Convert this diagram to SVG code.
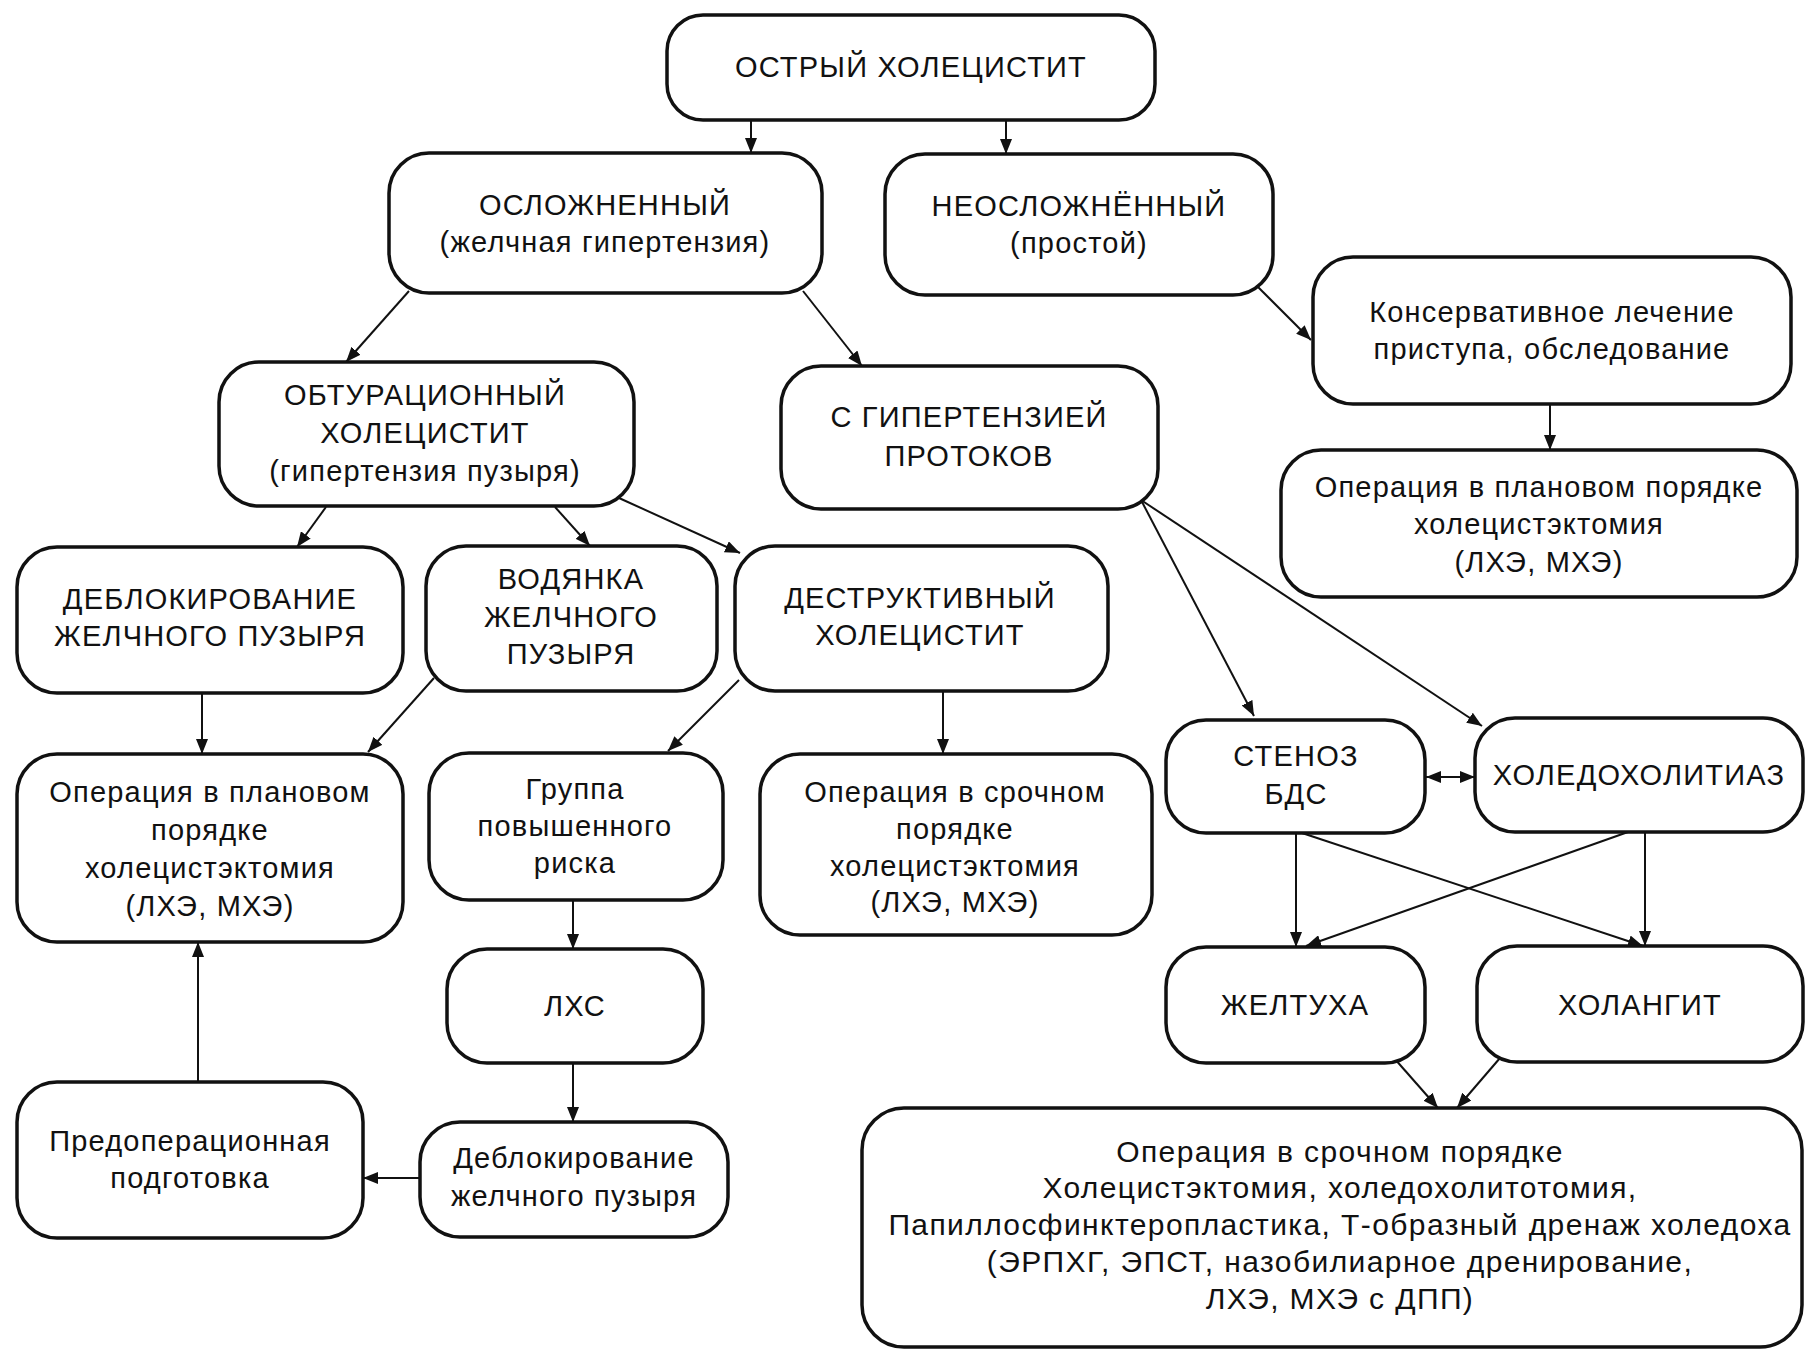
<svg xmlns="http://www.w3.org/2000/svg" width="1807" height="1350" viewBox="0 0 1807 1350">
<defs>
<style>
.box{fill:#fff;stroke:#111;stroke-width:3.5}
.t{font-family:"Liberation Sans",Arial,sans-serif;font-size:29px;letter-spacing:1.2px;fill:#111;text-anchor:middle}
.tb{font-family:"Liberation Sans",Arial,sans-serif;font-size:30px;letter-spacing:1.4px;fill:#111;text-anchor:middle}
.c{fill:none;stroke:#111;stroke-width:2}
</style>
<marker id="ah" markerUnits="userSpaceOnUse" markerWidth="16" markerHeight="12" refX="15" refY="6" orient="auto">
<path d="M0,0 L15,6 L0,12 z" fill="#111"/>
</marker>
<marker id="as" markerUnits="userSpaceOnUse" markerWidth="16" markerHeight="12" refX="0" refY="6" orient="auto">
<path d="M15,0 L0,6 L15,12 z" fill="#111"/>
</marker>
</defs>
<rect width="1807" height="1350" fill="#fff"/>

<g id="connectors">
<line class="c" x1="751" y1="120" x2="751" y2="153" marker-end="url(#ah)"/>
<line class="c" x1="1006" y1="120" x2="1006" y2="154" marker-end="url(#ah)"/>
<line class="c" x1="409" y1="291" x2="346" y2="362" marker-end="url(#ah)"/>
<line class="c" x1="803" y1="291" x2="862" y2="366" marker-end="url(#ah)"/>
<line class="c" x1="1258" y1="287" x2="1311" y2="340" marker-end="url(#ah)"/>
<line class="c" x1="1550" y1="404" x2="1550" y2="450" marker-end="url(#ah)"/>
<line class="c" x1="326" y1="507" x2="297" y2="547" marker-end="url(#ah)"/>
<line class="c" x1="555" y1="507" x2="590" y2="546" marker-end="url(#ah)"/>
<line class="c" x1="619" y1="498" x2="740" y2="553" marker-end="url(#ah)"/>
<line class="c" x1="1141" y1="500" x2="1254" y2="716" marker-end="url(#ah)"/>
<line class="c" x1="1141" y1="500" x2="1482" y2="726" marker-end="url(#ah)"/>
<line class="c" x1="202" y1="693" x2="202" y2="754" marker-end="url(#ah)"/>
<line class="c" x1="434" y1="678" x2="368" y2="752" marker-end="url(#ah)"/>
<line class="c" x1="739" y1="680" x2="668" y2="751" marker-end="url(#ah)"/>
<line class="c" x1="943" y1="691" x2="943" y2="754" marker-end="url(#ah)"/>
<line class="c" x1="1426" y1="777" x2="1475" y2="777" marker-start="url(#as)" marker-end="url(#ah)"/>
<line class="c" x1="1296" y1="833" x2="1296" y2="947" marker-end="url(#ah)"/>
<line class="c" x1="1302" y1="833" x2="1643" y2="946" marker-end="url(#ah)"/>
<line class="c" x1="1628" y1="832" x2="1306" y2="946" marker-end="url(#ah)"/>
<line class="c" x1="1645" y1="832" x2="1645" y2="946" marker-end="url(#ah)"/>
<line class="c" x1="573" y1="900" x2="573" y2="949" marker-end="url(#ah)"/>
<line class="c" x1="573" y1="1063" x2="573" y2="1122" marker-end="url(#ah)"/>
<line class="c" x1="420" y1="1178" x2="363" y2="1178" marker-end="url(#ah)"/>
<line class="c" x1="198" y1="1082" x2="198" y2="942" marker-end="url(#ah)"/>
<line class="c" x1="1394" y1="1058" x2="1438" y2="1108" marker-end="url(#ah)"/>
<line class="c" x1="1500" y1="1058" x2="1457" y2="1108" marker-end="url(#ah)"/>
</g>

<g id="n1"><rect class="box" x="667" y="15" width="488" height="105" rx="36"/>
<text class="t" x="911" y="77">ОСТРЫЙ ХОЛЕЦИСТИТ</text></g>

<g id="n2"><rect class="box" x="389" y="153" width="433" height="140" rx="40"/>
<text class="t" x="605" y="215">ОСЛОЖНЕННЫЙ</text>
<text class="t" x="605" y="252">(желчная гипертензия)</text></g>

<g id="n3"><rect class="box" x="885" y="154" width="388" height="141" rx="40"/>
<text class="t" x="1079" y="216">НЕОСЛОЖНЁННЫЙ</text>
<text class="t" x="1079" y="253">(простой)</text></g>

<g id="n4"><rect class="box" x="1313" y="257" width="478" height="147" rx="40"/>
<text class="t" x="1552" y="322">Консервативное лечение</text>
<text class="t" x="1552" y="359">приступа, обследование</text></g>

<g id="n5"><rect class="box" x="1281" y="450" width="516" height="147" rx="40"/>
<text class="t" x="1539" y="497">Операция в плановом порядке</text>
<text class="t" x="1539" y="534">холецистэктомия</text>
<text class="t" x="1539" y="572">(ЛХЭ, МХЭ)</text></g>

<g id="n6"><rect class="box" x="219" y="362" width="415" height="144" rx="40"/>
<text class="t" x="425" y="405">ОБТУРАЦИОННЫЙ</text>
<text class="t" x="425" y="443">ХОЛЕЦИСТИТ</text>
<text class="t" x="425" y="481">(гипертензия пузыря)</text></g>

<g id="n7"><rect class="box" x="781" y="366" width="377" height="143" rx="40"/>
<text class="t" x="969" y="427">С ГИПЕРТЕНЗИЕЙ</text>
<text class="t" x="969" y="466">ПРОТОКОВ</text></g>

<g id="n8"><rect class="box" x="17" y="547" width="386" height="146" rx="40"/>
<text class="t" x="210" y="609">ДЕБЛОКИРОВАНИЕ</text>
<text class="t" x="210" y="646">ЖЕЛЧНОГО ПУЗЫРЯ</text></g>

<g id="n9"><rect class="box" x="426" y="546" width="291" height="145" rx="40"/>
<text class="t" x="571" y="589">ВОДЯНКА</text>
<text class="t" x="571" y="627">ЖЕЛЧНОГО</text>
<text class="t" x="571" y="664">ПУЗЫРЯ</text></g>

<g id="n10"><rect class="box" x="735" y="546" width="373" height="145" rx="40"/>
<text class="t" x="920" y="608">ДЕСТРУКТИВНЫЙ</text>
<text class="t" x="920" y="645">ХОЛЕЦИСТИТ</text></g>

<g id="n11"><rect class="box" x="17" y="754" width="386" height="188" rx="40"/>
<text class="t" x="210" y="802">Операция в плановом</text>
<text class="t" x="210" y="840">порядке</text>
<text class="t" x="210" y="878">холецистэктомия</text>
<text class="t" x="210" y="916">(ЛХЭ, МХЭ)</text></g>

<g id="n12"><rect class="box" x="429" y="753" width="294" height="147" rx="40"/>
<text class="t" x="575" y="799">Группа</text>
<text class="t" x="575" y="836">повышенного</text>
<text class="t" x="575" y="873">риска</text></g>

<g id="n13"><rect class="box" x="760" y="754" width="392" height="181" rx="40"/>
<text class="t" x="955" y="802">Операция в срочном</text>
<text class="t" x="955" y="839">порядке</text>
<text class="t" x="955" y="876">холецистэктомия</text>
<text class="t" x="955" y="912">(ЛХЭ, МХЭ)</text></g>

<g id="n14"><rect class="box" x="1166" y="720" width="259" height="113" rx="40"/>
<text class="t" x="1296" y="766">СТЕНОЗ</text>
<text class="t" x="1296" y="804">БДС</text></g>

<g id="n15"><rect class="box" x="1475" y="718" width="328" height="114" rx="40"/>
<text class="t" x="1639" y="785">ХОЛЕДОХОЛИТИАЗ</text></g>

<g id="n16"><rect class="box" x="447" y="949" width="256" height="114" rx="40"/>
<text class="t" x="575" y="1016">ЛХС</text></g>

<g id="n17"><rect class="box" x="1166" y="947" width="259" height="116" rx="40"/>
<text class="t" x="1295" y="1015">ЖЕЛТУХА</text></g>

<g id="n18"><rect class="box" x="1477" y="946" width="326" height="116" rx="40"/>
<text class="t" x="1640" y="1015">ХОЛАНГИТ</text></g>

<g id="n19"><rect class="box" x="420" y="1122" width="308" height="115" rx="40"/>
<text class="t" x="574" y="1168">Деблокирование</text>
<text class="t" x="574" y="1206">желчного пузыря</text></g>

<g id="n20"><rect class="box" x="17" y="1082" width="346" height="156" rx="40"/>
<text class="t" x="190" y="1151">Предоперационная</text>
<text class="t" x="190" y="1188">подготовка</text></g>

<g id="n21"><rect class="box" x="862" y="1108" width="940" height="239" rx="42"/>
<text class="tb" x="1340" y="1162">Операция в срочном порядке</text>
<text class="tb" x="1340" y="1198">Холецистэктомия, холедохолитотомия,</text>
<text class="tb" x="1340" y="1235">Папиллосфинктеропластика, Т-образный дренаж холедоха</text>
<text class="tb" x="1340" y="1272">(ЭРПХГ, ЭПСТ, назобилиарное дренирование,</text>
<text class="tb" x="1340" y="1309">ЛХЭ, МХЭ с ДПП)</text></g>
</svg>
